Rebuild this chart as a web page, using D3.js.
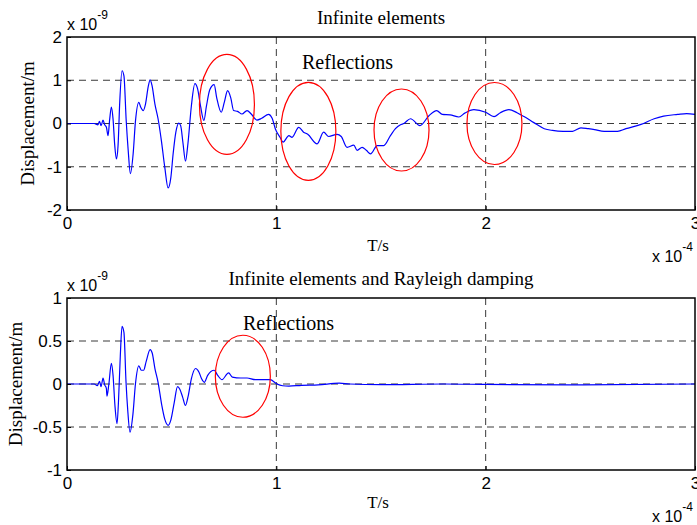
<!DOCTYPE html>
<html>
<head>
<meta charset="utf-8">
<script src="https://d3js.org/d3.v7.min.js"></script>
<style>
  body { margin: 0; background: #fff; }
  svg { display: block; }
</style>
</head>
<body>
<div id="chart"></div>
<script>
// time in units of 1e-4 s, displacement in units of 1e-9 m
var topT = [0, 0.10, 0.13, 0.148, 0.155, 0.163, 0.172, 0.18, 0.188, 0.196, 0.204, 0.212, 0.22, 0.228, 0.236, 0.244, 0.252, 0.263, 0.272, 0.283, 0.292, 0.303, 0.316, 0.327, 0.343, 0.352, 0.364, 0.375, 0.388, 0.397, 0.406, 0.42, 0.435, 0.451, 0.467, 0.483, 0.496, 0.507, 0.52, 0.534, 0.543, 0.554, 0.566, 0.578, 0.594, 0.611, 0.624, 0.638, 0.654, 0.666, 0.682, 0.703, 0.715, 0.737, 0.752, 0.767, 0.782, 0.796, 0.815, 0.836, 0.86, 0.88, 0.907, 0.93, 0.963, 0.98, 0.995, 1.019, 1.032, 1.06, 1.075, 1.107, 1.13, 1.15, 1.195, 1.226, 1.25, 1.29, 1.31, 1.338, 1.37, 1.386, 1.41, 1.43, 1.45, 1.482, 1.513, 1.545, 1.569, 1.593, 1.609, 1.641, 1.686, 1.729, 1.766, 1.793, 1.83, 1.872, 1.9, 1.944, 2.0, 2.04, 2.07, 2.111, 2.15, 2.183, 2.23, 2.28, 2.319, 2.37, 2.415, 2.455, 2.49, 2.52, 2.566, 2.63, 2.67, 2.742, 2.805, 2.85, 2.917, 2.96, 3.0];
var topV = [0, 0, 0.0, -0.03, 0.05, -0.05, 0.08, -0.03, -0.08, -0.28, 0.1, 0.38, 0.1, -0.5, -0.82, -0.5, 0.5, 1.22, 1.1, 0.05, -0.6, -1.16, -0.7, 0.05, 0.49, 0.38, 0.3, 0.45, 0.85, 1.01, 0.88, 0.45, 0.11, -0.4, -1.01, -1.49, -1.25, -0.7, -0.2, 0.01, -0.05, -0.45, -0.87, -0.45, 0.4, 0.92, 0.8, 0.4, 0.07, 0.4, 0.78, 0.9, 0.6, 0.26, 0.5, 0.76, 0.6, 0.3, 0.28, 0.22, 0.3, 0.22, 0.08, 0.12, 0.21, 0.12, -0.12, -0.33, -0.43, -0.28, -0.32, -0.09, -0.2, -0.25, -0.47, -0.2, -0.3, -0.25, -0.3, -0.55, -0.5, -0.62, -0.55, -0.62, -0.7, -0.51, -0.51, -0.28, -0.12, -0.03, 0.0, 0.11, -0.05, 0.18, 0.3, 0.21, 0.2, 0.15, 0.24, 0.32, 0.26, 0.16, 0.25, 0.32, 0.25, 0.16, 0.02, -0.12, -0.16, -0.18, -0.18, -0.1, -0.12, -0.14, -0.18, -0.18, -0.12, -0.02, 0.11, 0.17, 0.21, 0.23, 0.21];

var botT = [0, 0.10, 0.13, 0.145, 0.155, 0.163, 0.172, 0.18, 0.188, 0.191, 0.2, 0.212, 0.22, 0.229, 0.239, 0.246, 0.255, 0.263, 0.272, 0.282, 0.29, 0.301, 0.315, 0.327, 0.343, 0.355, 0.366, 0.378, 0.397, 0.407, 0.42, 0.435, 0.453, 0.466, 0.483, 0.496, 0.512, 0.528, 0.539, 0.552, 0.566, 0.578, 0.594, 0.614, 0.63, 0.643, 0.656, 0.672, 0.703, 0.72, 0.74, 0.772, 0.79, 0.83, 0.86, 0.9, 0.97, 1.003, 1.03, 1.06, 1.12, 1.2, 1.3, 1.35, 1.5, 1.8, 2.0, 2.4, 3.0];
var botV = [0, 0, 0, -0.02, 0.03, -0.03, 0.07, -0.01, -0.05, -0.14, 0.0, 0.24, 0.1, -0.25, -0.46, -0.2, 0.35, 0.67, 0.6, 0.02, -0.3, -0.56, -0.35, 0.0, 0.21, 0.16, 0.16, 0.26, 0.4, 0.36, 0.18, 0.02, -0.25, -0.4, -0.48, -0.42, -0.22, -0.03, -0.06, -0.15, -0.25, -0.15, 0.06, 0.18, 0.14, 0.06, 0.02, 0.1, 0.16, 0.1, 0.05, 0.13, 0.08, 0.07, 0.07, 0.05, 0.05, 0.0, -0.02, -0.025, -0.015, -0.01, 0.01, 0.0, -0.008, 0.0, -0.005, -0.01, 0.0];

var topYTicks = [-2, -1, 0, 1, 2];
var botYTicks = [-1, -0.5, 0, 0.5, 1];
var xTicks = [0, 1, 2, 3];

var topTitle = "Infinite elements";
var botTitle = "Infinite elements and Rayleigh damping";
var yLabel = "Displacement/m";
var xLabel = "T/s";
var noteText = "Reflections";

// centres of the red ellipses (t, displacement)
var topRings = [[0.764, 0.44], [1.153, -0.18], [1.598, -0.15], [2.042, 0.0]];
var botRings = [[0.84, 0.09]];

var W = 697, H = 525;
var svg = d3.select("#chart").append("svg")
    .attr("width", W)
    .attr("height", H);

var sans = "'Liberation Sans', Arial, sans-serif";
var serif = "'Liberation Serif', 'Times New Roman', serif";

function drawPanel(p) {
    var x = d3.scaleLinear().domain([0, 3]).range([p.left, p.right]);
    var y = d3.scaleLinear().domain(p.yDomain).range([p.bottom, p.top]);
    var g = svg.append("g");

    // dashed grid
    g.selectAll(".hgrid")
        .data(p.yTicks.filter(function(d) { return d !== p.yDomain[0] && d !== p.yDomain[1]; }))
        .enter().append("line")
        .attr("x1", p.left).attr("x2", p.right)
        .attr("y1", function(d) { return y(d); })
        .attr("y2", function(d) { return y(d); })
        .attr("stroke", "#3a3a3a")
        .attr("stroke-width", 1)
        .attr("stroke-dasharray", "7,5");
    g.selectAll(".vgrid")
        .data(xTicks.filter(function(d) { return d > 0 && d < 3; }))
        .enter().append("line")
        .attr("x1", function(d) { return x(d); })
        .attr("x2", function(d) { return x(d); })
        .attr("y1", p.top).attr("y2", p.bottom)
        .attr("stroke", "#3a3a3a")
        .attr("stroke-width", 1)
        .attr("stroke-dasharray", "7,5");

    // signal
    var pts = p.t.map(function(t, i) { return [t, p.v[i]]; });
    var line = d3.line()
        .x(function(d) { return x(d[0]); })
        .y(function(d) { return y(d[1]); })
        .curve(d3.curveMonotoneX);
    g.append("path")
        .datum(pts)
        .attr("fill", "none")
        .attr("stroke", "#0000ff")
        .attr("stroke-width", 1.2)
        .attr("d", line);

    // red rings
    g.selectAll(".ring")
        .data(p.rings)
        .enter().append("ellipse")
        .attr("cx", function(d) { return x(d[0]); })
        .attr("cy", function(d) { return y(d[1]); })
        .attr("rx", 27.5)
        .attr("ry", function(d, i) { return p.ringRy[i]; })
        .attr("fill", "none")
        .attr("stroke", "#ff0000")
        .attr("stroke-width", 1.2);

    // axes (ticks inside, MATLAB style)
    var xAxis = d3.axisBottom(x).tickValues(xTicks).tickSizeInner(-4).tickSizeOuter(0).tickPadding(7)
        .tickFormat(d3.format("d"));
    var yAxis = d3.axisLeft(y).tickValues(p.yTicks).tickSizeInner(-4).tickSizeOuter(0).tickPadding(5)
        .tickFormat(function(d) { return String(d); });

    var gx = g.append("g").attr("transform", "translate(0," + p.bottom + ")").call(xAxis);
    var gy = g.append("g").attr("transform", "translate(" + p.left + ",0)").call(yAxis);
    [gx, gy].forEach(function(a) {
        a.select(".domain").remove();
        a.selectAll("line").attr("stroke", "#000");
        a.selectAll("text").attr("fill", "#000").style("font-family", sans).style("font-size", "17px");
    });

    // frame
    g.append("rect")
        .attr("x", p.left).attr("y", p.top)
        .attr("width", p.right - p.left).attr("height", p.bottom - p.top)
        .attr("fill", "none").attr("stroke", "#000").attr("stroke-width", 1.5);

    // titles & labels
    g.append("text")
        .attr("x", (p.left + p.right) / 2).attr("y", p.top - 13)
        .attr("text-anchor", "middle")
        .style("font-family", serif).style("font-size", "19px")
        .text(p.title);

    g.append("text")
        .attr("transform", "translate(" + p.ylabX + "," + ((p.top + p.bottom) / 2) + ") rotate(-90)")
        .attr("text-anchor", "middle")
        .style("font-family", serif).style("font-size", "19px")
        .text(yLabel);

    g.append("text")
        .attr("x", (p.left + p.right) / 2 - 3).attr("y", p.bottom + p.xlabDy)
        .attr("text-anchor", "middle")
        .style("font-family", serif).style("font-size", "17px")
        .text(xLabel);

    g.append("text")
        .attr("x", p.noteX).attr("y", p.noteY)
        .style("font-family", serif).style("font-size", "20px")
        .text(noteText);

    // exponent labels
    var ey = g.append("text").attr("x", p.left).attr("y", p.top - 7)
        .style("font-family", sans).style("font-size", "16px");
    ey.append("tspan").text("x 10");
    ey.append("tspan").attr("dy", -11).style("font-size", "12px").text("-9");

    var ex = g.append("text").attr("x", 652).attr("y", p.bottom + 52)
        .style("font-family", sans).style("font-size", "16px");
    ex.append("tspan").text("x 10");
    ex.append("tspan").attr("dy", -11).style("font-size", "12px").text("-4");
}

drawPanel({
    left: 67, right: 695, top: 37, bottom: 210,
    yDomain: [-2, 2], yTicks: topYTicks,
    t: topT, v: topV,
    rings: topRings, ringRy: [50, 49, 41, 41],
    title: topTitle,
    ylabX: 34, xlabDy: 41,
    noteX: 302, noteY: 69
});

drawPanel({
    left: 67, right: 695, top: 298, bottom: 470,
    yDomain: [-1, 1], yTicks: botYTicks,
    t: botT, v: botV,
    rings: botRings, ringRy: [41],
    title: botTitle,
    ylabX: 22, xlabDy: 38,
    noteX: 243, noteY: 330
});
</script>
</body>
</html>
